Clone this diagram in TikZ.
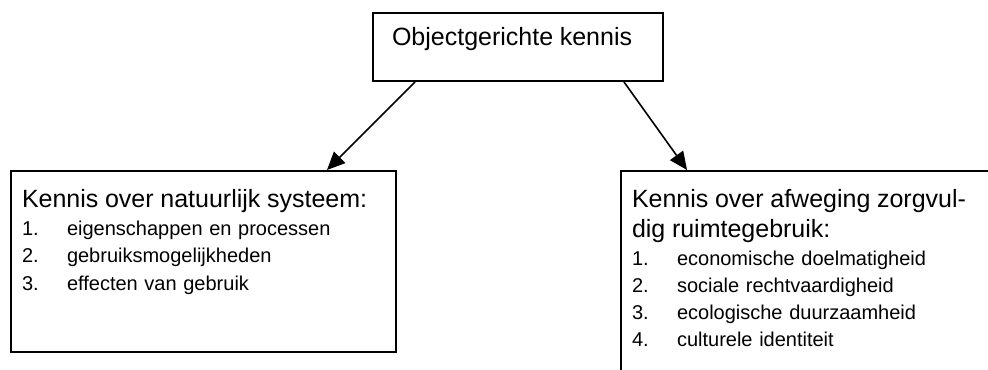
\documentclass[tikz,border=0pt]{standalone}
\usepackage{fontspec}
\setmainfont{Liberation Sans}
\usetikzlibrary{arrows.meta,calc}
% list entry with a fixed number column
\newcommand{\kitem}[2]{\makebox[22.5pt][l]{#1.}#2\par}
\newcommand{\ktitle}{\fontsize{12.5}{15}\selectfont}
\newcommand{\ksmall}{\fontsize{10}{13.5}\selectfont}
\begin{document}
\begin{tikzpicture}[
  box/.style={draw, line width=1pt, anchor=north west, inner xsep=5.5pt,
    inner ysep=0pt, align=left},
  arr/.style={line width=0.8pt, -{Triangle[length=9pt,width=8pt]}}
]
% Fix the page and cut off what runs past it
\useasboundingbox (0,0) rectangle (494pt,184.5pt);
\clip (0,0) rectangle (494pt,184.5pt);
% Top box
\node[box, inner xsep=9.5pt, text width=126pt, text height=16.5pt, text depth=17.5pt]
  (obj) at (186pt,178.5pt) {\ktitle Objectgerichte kennis};
% Left box
\node[box, text width=181.5pt, text height=18.5pt, text depth=72pt]
  (nat) at (5pt,99.5pt) {%
  {\ktitle Kennis over natuurlijk systeem:\par}
  \vspace{0.5pt}
  \ksmall
  \kitem{1}{eigenschappen en processen}
  \kitem{2}{gebruiksmogelijkheden}
  \kitem{3}{effecten van gebruik}};
% Right box, runs off the page
\node[box, text width=200pt, text height=18.5pt, text depth=100pt]
  (afw) at (310pt,99.5pt) {%
  {\ktitle Kennis over afweging zorgvul-\par
  dig ruimtegebruik:\par}
  \vspace{0.5pt}
  \ksmall
  \kitem{1}{economische doelmatigheid}
  \kitem{2}{sociale rechtvaardigheid}
  \kitem{3}{ecologische duurzaamheid}
  \kitem{4}{culturele identiteit}};
% Arrows
\draw[arr] ($(obj.south west)+(21.5pt,0)$) -- ($(nat.north west)+(158.5pt,0)$);
\draw[arr] ($(obj.south east)+(-20pt,0)$) -- ($(afw.north west)+(33.5pt,0)$);
\end{tikzpicture}
\end{document}
